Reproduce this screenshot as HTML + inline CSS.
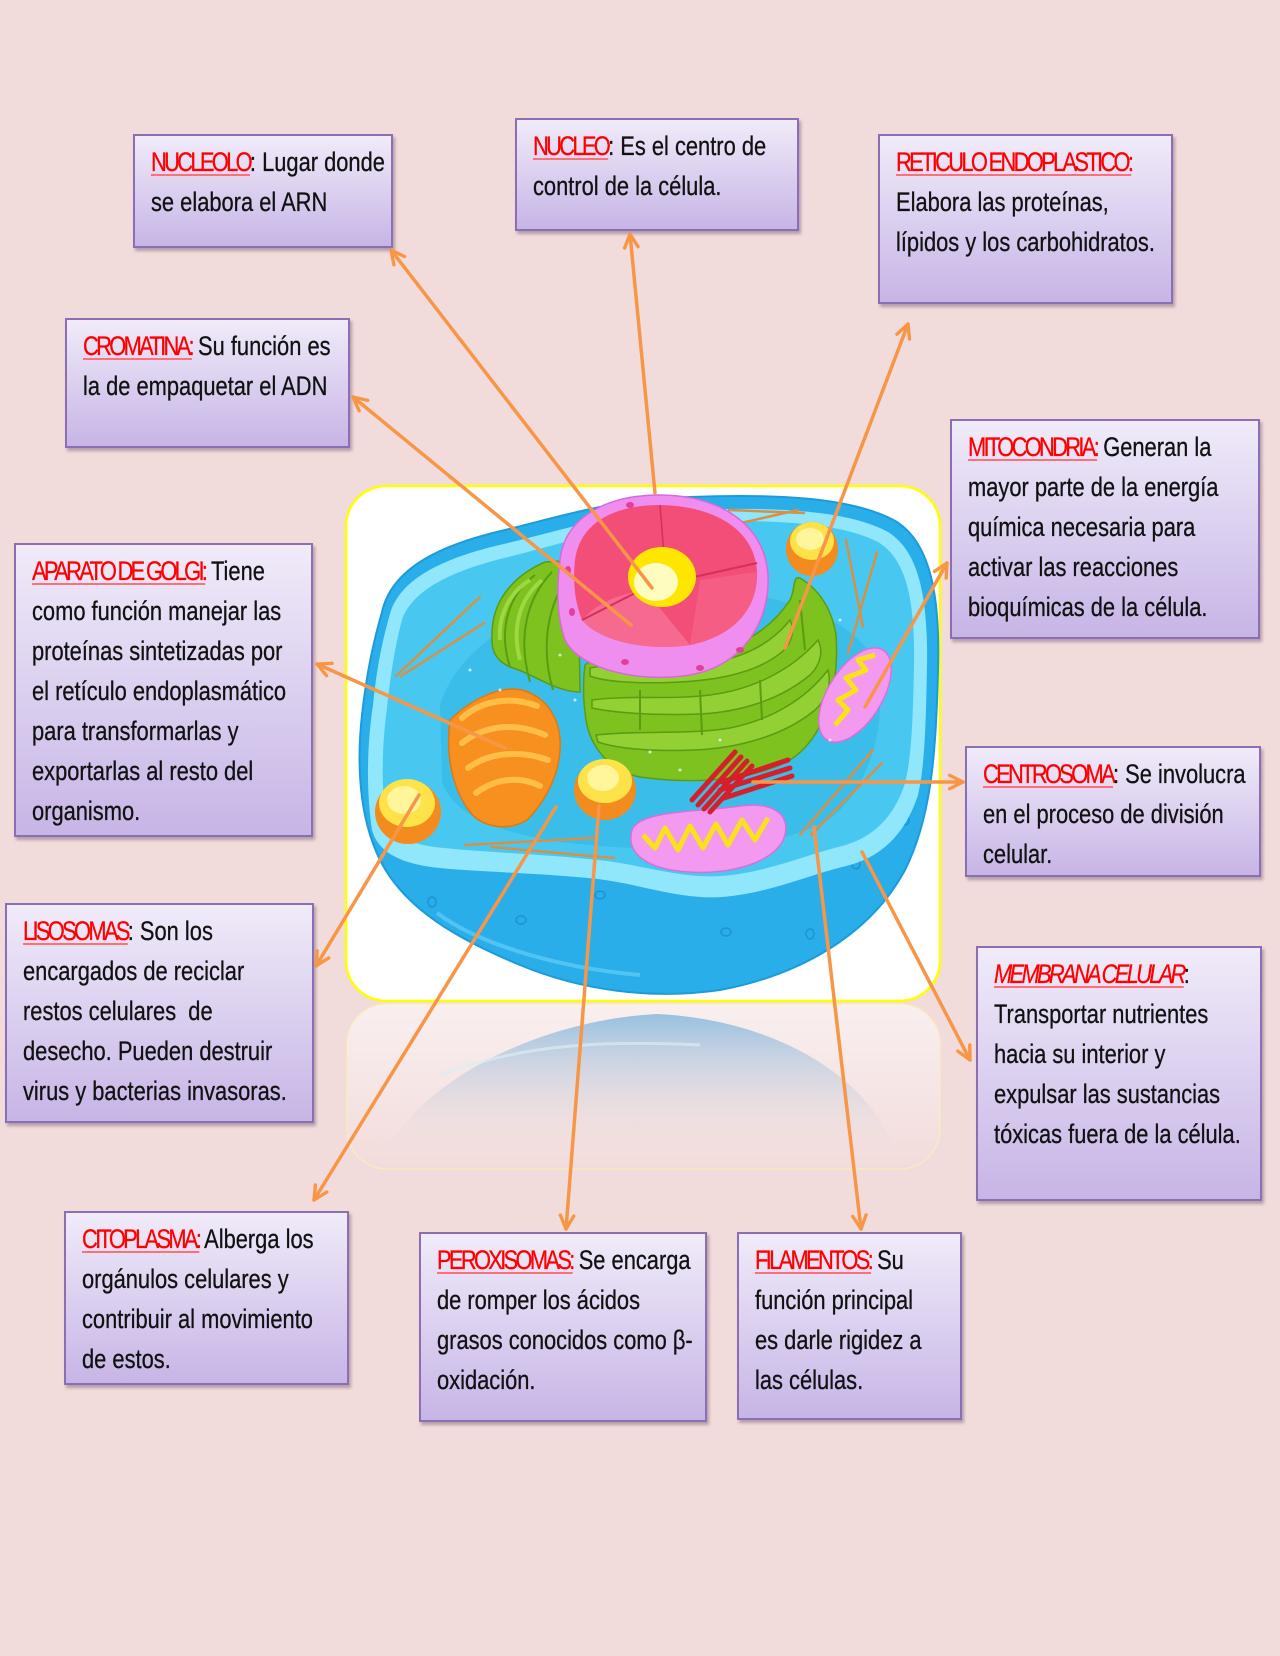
<!DOCTYPE html>
<html>
<head>
<meta charset="utf-8">
<style>
html,body{margin:0;padding:0;}
body{width:1280px;height:1656px;background:#f2dcdb;position:relative;overflow:hidden;font-family:"Liberation Sans",sans-serif;}
.box{position:absolute;box-sizing:border-box;border:2px solid #8a6fb3;background:linear-gradient(#f0ebf9,#c7b5e6);box-shadow:2px 3px 3px rgba(60,40,80,.35);}
.t{position:absolute;left:16px;top:6px;transform:scaleX(.81);transform-origin:0 0;white-space:nowrap;font-size:27px;line-height:40px;color:#111;-webkit-text-stroke:0.3px #111;}
.h{color:#ff0000;-webkit-text-stroke:0.3px #ff0000;letter-spacing:-3.3px;text-decoration:underline;text-decoration-color:#ff6f7a;text-decoration-thickness:2px;text-underline-offset:3px;}
.i{font-style:italic;}
svg{position:absolute;left:0;top:0;}
</style>
</head>
<body>

<svg width="1280" height="1656" viewBox="0 0 1280 1656">
<defs>
<linearGradient id="refl" x1="0" y1="0" x2="0" y2="1">
<stop offset="0" stop-color="#ffffff" stop-opacity="0.55"/>
<stop offset="1" stop-color="#ffffff" stop-opacity="0"/>
</linearGradient>
<linearGradient id="dome" x1="0" y1="0" x2="0" y2="1">
<stop offset="0" stop-color="#98c0e0" stop-opacity="1"/>
<stop offset="1" stop-color="#f0dcdb" stop-opacity="0"/>
</linearGradient>
</defs>
<!-- reflection -->
<rect x="347" y="1004" width="593" height="165" rx="40" fill="url(#refl)" stroke="#fbf2b0" stroke-opacity="0.6" stroke-width="1.5"/>
<path d="M385,1155 C420,1080 540,1020 657,1014 C780,1020 870,1080 895,1150 Z" fill="url(#dome)"/>
<path d="M440,1075 C520,1045 600,1040 700,1045" stroke="#d8ecf4" stroke-width="3" fill="none" opacity="0.7"/>

<!-- image frame -->
<rect x="346" y="486" width="594" height="515" rx="40" fill="#ffffff" stroke="#ffff00" stroke-width="2.5"/>

<!-- cell body -->
<path d="M382,612 C392,568 440,545 505,530 C570,514 610,500 690,497 C770,494 852,496 897,522 C932,545 940,600 938,670 C936,760 930,820 905,870 C870,935 800,975 720,990 C650,1000 580,990 520,965 C460,940 405,910 380,860 C358,815 357,760 362,715 C367,670 374,640 382,612 Z" fill="#2aaeea" stroke="#1c9bdc" stroke-width="2"/>
<path d="M437,913 C480,945 560,968 640,975" stroke="#62cdf4" stroke-width="4" fill="none" opacity="0.7"/>
<g fill="none" stroke="#1b93d4" stroke-width="1.5">
<ellipse cx="432" cy="902" rx="4" ry="5"/>
<ellipse cx="521" cy="920" rx="5" ry="4"/>
<ellipse cx="726" cy="932" rx="5" ry="4"/>
<ellipse cx="810" cy="934" rx="4" ry="5"/>
<ellipse cx="856" cy="864" rx="4" ry="5"/>
<ellipse cx="905" cy="820" rx="4" ry="5"/>
<ellipse cx="600" cy="895" rx="5" ry="4"/>
</g>
<!-- top surface rim -->
<path d="M390,614 C400,578 445,557 508,543 C570,528 612,513 690,510 C768,507 846,509 888,532 C920,552 928,600 927,665 C926,720 925,765 918,795 C905,835 880,858 846,866 C805,876 770,893 722,897 C680,900 640,884 598,879 C540,873 480,872 440,868 C400,864 378,852 372,830 C366,790 367,745 373,705 C377,665 383,638 390,614 Z" fill="#90e6fb"/>
<!-- cytoplasm -->
<path d="M402,620 C412,590 452,570 512,556 C572,541 614,525 690,522 C765,519 840,522 878,542 C908,560 915,605 914,665 C913,715 912,755 905,783 C894,818 872,838 842,846 C802,856 768,872 722,876 C680,879 640,864 598,860 C540,854 482,852 444,848 C410,845 392,836 386,818 C381,785 382,745 387,708 C391,670 396,642 402,620 Z" fill="#48c8f0"/>
<path d="M440,705 C460,640 540,600 620,590 C720,580 830,600 868,650 C895,700 875,790 825,822 C765,852 680,852 600,846 C520,840 455,822 442,782 Z" fill="#3bbde9"/>

<!-- filaments -->
<g stroke="#d4914a" stroke-width="2.5" stroke-linecap="round">
<line x1="396" y1="676" x2="480" y2="597"/>
<line x1="401" y1="676" x2="484" y2="623"/>
<line x1="729" y1="510" x2="804" y2="513"/>
<line x1="741" y1="523" x2="798" y2="510"/>
<line x1="846" y1="540" x2="863" y2="627"/>
<line x1="877" y1="552" x2="848" y2="653"/>
<line x1="465" y1="845" x2="593" y2="838"/>
<line x1="492" y1="847" x2="614" y2="858"/>
<line x1="800" y1="835" x2="873" y2="750"/>
<line x1="811" y1="835" x2="882" y2="763"/>
</g>

<!-- green ER left -->
<path d="M492,640 C490,600 515,575 545,562 L578,560 L580,692 C555,692 530,672 510,667 C495,660 492,650 492,640 Z" fill="#7dc21e" stroke="#5a9c12" stroke-width="1.5"/>
<g fill="none" stroke="#5a9c12" stroke-width="2">
<path d="M510,667 C498,630 508,595 535,575"/>
<path d="M530,682 C518,640 525,600 552,572"/>
<path d="M553,690 C541,650 546,605 570,575"/>
</g>
<g fill="none" stroke="#9ed842" stroke-width="4">
<path d="M500,640 C498,615 510,592 530,580"/>
<path d="M520,660 C512,630 518,600 542,580"/>
</g>

<!-- green ER main bowl -->
<path d="M585,665 C600,650 640,660 690,655 C740,650 770,630 790,600 C796,588 792,576 800,578 C820,590 832,610 836,635 C840,690 822,740 790,760 C750,782 690,784 640,777 C608,771 590,745 586,720 C583,700 583,680 585,665 Z" fill="#7dc21e" stroke="#5a9c12" stroke-width="1.5"/>
<g fill="#92d033" stroke="#5a9c12" stroke-width="1.5">
<path d="M590,668 C620,662 660,668 700,664 C740,660 770,645 790,620 C795,630 792,642 784,650 C760,672 720,680 680,682 C640,684 605,682 590,676 Z"/>
<path d="M592,700 C630,695 670,700 710,695 C750,690 790,672 818,640 C824,652 820,665 810,675 C780,700 740,712 700,714 C650,716 610,712 592,708 Z"/>
<path d="M596,735 C640,730 690,735 730,728 C770,720 805,700 828,670 C832,685 826,700 815,710 C785,735 740,748 695,750 C650,752 615,748 598,742 Z"/>
</g>
<g fill="none" stroke="#5a9c12" stroke-width="2">
<path d="M640,690 L640,730"/><path d="M700,690 L702,735"/><path d="M760,680 L762,720"/><path d="M800,600 L805,650"/>
</g>

<!-- nucleus -->
<path d="M560,560 C565,515 610,495 660,495 C720,495 765,525 768,575 C770,620 745,665 690,675 C640,683 580,670 565,640 C556,615 557,585 560,560 Z" fill="#ef8eef" stroke="#d56ad8" stroke-width="1.5"/>
<path d="M575,560 C580,522 615,505 660,505 C715,506 755,530 757,572 C758,605 738,635 690,645 C645,652 598,640 582,620 C574,600 573,580 575,560 Z" fill="#f24e78"/>
<path d="M582,620 C600,600 620,595 645,590 L690,645 C645,652 598,640 582,620 Z" fill="#f76a90"/>
<path d="M690,645 C738,635 758,605 757,572 L700,580 Z" fill="#f55d85"/>
<path d="M582,620 L645,588 L757,563" stroke="#d3305c" stroke-width="2" fill="none"/>
<path d="M660,505 L664,555" stroke="#d3305c" stroke-width="1.5" fill="none"/>
<ellipse cx="662" cy="577" rx="34" ry="30" fill="#ffe600"/>
<ellipse cx="656" cy="582" rx="22" ry="19" fill="#fffcc0"/>
<g fill="#e0409a">
<ellipse cx="568" cy="570" rx="3" ry="4"/>
<ellipse cx="572" cy="612" rx="3" ry="4"/>
<ellipse cx="625" cy="662" rx="4" ry="3"/>
<ellipse cx="700" cy="668" rx="4" ry="3"/>
<ellipse cx="630" cy="505" rx="4" ry="3"/>
<ellipse cx="740" cy="650" rx="4" ry="3"/>
</g>

<!-- golgi -->
<path d="M450,720 C470,700 500,685 522,690 C547,697 562,720 560,750 C558,780 542,805 527,820 C507,832 482,827 470,812 C455,792 445,762 450,720 Z" fill="#f7901e" stroke="#e07810" stroke-width="1.5"/>
<g fill="none" stroke="#ffbe48" stroke-width="6" stroke-linecap="round">
<path d="M462,718 C482,700 512,696 537,706"/>
<path d="M462,743 C485,725 515,722 545,735"/>
<path d="M468,768 C490,752 520,750 548,760"/>
<path d="M476,793 C496,778 520,776 540,786"/>
</g>

<!-- lysosomes -->
<g>
<ellipse cx="812" cy="549" rx="26" ry="27" fill="#f38b1e"/>
<ellipse cx="812" cy="541" rx="22" ry="19" fill="#fde24a"/>
<ellipse cx="810" cy="539" rx="14" ry="11" fill="#fff59a"/>
<ellipse cx="408" cy="812" rx="33" ry="32" fill="#f38b1e"/>
<ellipse cx="407" cy="803" rx="28" ry="24" fill="#fde24a"/>
<ellipse cx="404" cy="800" rx="17" ry="14" fill="#fff59a"/>
<ellipse cx="605" cy="790" rx="31" ry="30" fill="#f38b1e"/>
<ellipse cx="605" cy="781" rx="27" ry="22" fill="#fde24a"/>
<ellipse cx="603" cy="778" rx="16" ry="13" fill="#fff59a"/>
</g>

<!-- mitochondria -->
<ellipse cx="855" cy="695" rx="27" ry="53" transform="rotate(32 855 695)" fill="#f39af0" stroke="#d870d8" stroke-width="1.5"/>
<polyline points="835,725 848,710 838,700 856,690 846,678 866,670 858,660 875,655" fill="none" stroke="#f9e21a" stroke-width="5" stroke-linejoin="round"/>
<path d="M632,830 C640,810 700,812 740,806 C770,802 790,812 785,835 C778,862 730,875 690,872 C650,870 625,855 632,830 Z" fill="#f39af0" stroke="#d870d8" stroke-width="1.5"/>
<polyline points="643,835 655,848 665,828 678,850 690,826 703,848 716,824 728,845 742,820 755,840 768,818" fill="none" stroke="#f9e21a" stroke-width="5" stroke-linejoin="round"/>

<!-- centrosome -->
<g stroke="#d61f2b" stroke-width="5" stroke-linecap="round">
<line x1="692" y1="800" x2="735" y2="752"/>
<line x1="698" y1="805" x2="741" y2="757"/>
<line x1="704" y1="809" x2="747" y2="761"/>
<line x1="710" y1="812" x2="752" y2="766"/>
<line x1="720" y1="790" x2="790" y2="768"/>
<line x1="722" y1="782" x2="788" y2="760"/>
<line x1="724" y1="798" x2="792" y2="776"/>
</g>
<g fill="#e0f8ff" opacity="0.8">
<circle cx="500" cy="690" r="1.5"/><circle cx="575" cy="700" r="1.5"/><circle cx="560" cy="655" r="1.5"/>
<circle cx="840" cy="620" r="1.5"/><circle cx="830" cy="740" r="1.5"/><circle cx="680" cy="770" r="1.5"/>
<circle cx="650" cy="752" r="1.5"/><circle cx="720" cy="740" r="1.5"/><circle cx="470" cy="670" r="1.5"/>
</g>
</svg>

<!-- boxes -->
<div class="box" style="left:133px;top:134px;width:260px;height:114px;"><div class="t"><span class="h">NUCLEOLO</span>: Lugar donde<br>se elabora el ARN</div></div>

<div class="box" style="left:515px;top:118px;width:284px;height:113px;"><div class="t"><span class="h">NUCLEO</span>: Es el centro de<br>control de la célula.</div></div>

<div class="box" style="left:878px;top:134px;width:295px;height:170px;"><div class="t"><span class="h">RETICULO ENDOPLASTICO:</span><br>Elabora las proteínas,<br>lípidos y los carbohidratos.</div></div>

<div class="box" style="left:65px;top:318px;width:285px;height:130px;"><div class="t"><span class="h">CROMATINA:</span> Su función es<br>la de empaquetar el ADN</div></div>

<div class="box" style="left:950px;top:419px;width:310px;height:220px;"><div class="t"><span class="h">MITOCONDRIA:</span> Generan la<br>mayor parte de la energía<br>química necesaria para<br>activar las reacciones<br>bioquímicas de la célula.</div></div>

<div class="box" style="left:14px;top:543px;width:299px;height:294px;"><div class="t"><span class="h">APARATO DE GOLGI:</span> Tiene<br>como función manejar las<br>proteínas sintetizadas por<br>el retículo endoplasmático<br>para transformarlas y<br>exportarlas al resto del<br>organismo.</div></div>

<div class="box" style="left:965px;top:746px;width:296px;height:131px;"><div class="t"><span class="h">CENTROSOMA</span>: Se involucra<br>en el proceso de división<br>celular.</div></div>

<div class="box" style="left:5px;top:903px;width:309px;height:220px;"><div class="t"><span class="h">LISOSOMAS</span>: Son los<br>encargados de reciclar<br>restos celulares&nbsp; de<br>desecho. Pueden destruir<br>virus y bacterias invasoras.</div></div>

<div class="box" style="left:976px;top:946px;width:286px;height:255px;"><div class="t"><span class="h i">MEMBRANA CELULAR</span>:<br>Transportar nutrientes<br>hacia su interior y<br>expulsar las sustancias<br>tóxicas fuera de la célula.</div></div>

<div class="box" style="left:64px;top:1211px;width:285px;height:174px;"><div class="t"><span class="h">CITOPLASMA:</span> Alberga los<br>orgánulos celulares y<br>contribuir al movimiento<br>de estos.</div></div>

<div class="box" style="left:419px;top:1232px;width:288px;height:190px;"><div class="t"><span class="h">PEROXISOMAS:</span> Se encarga<br>de romper los ácidos<br>grasos conocidos como β-<br>oxidación.</div></div>

<div class="box" style="left:737px;top:1232px;width:225px;height:188px;"><div class="t"><span class="h">FILAMENTOS:</span> Su<br>función principal<br>es darle rigidez a<br>las células.</div></div>

<!-- arrows -->
<svg width="1280" height="1656" viewBox="0 0 1280 1656">
<defs>
<marker id="ah" viewBox="0 0 16 16" refX="14" refY="8" markerWidth="18" markerHeight="18" markerUnits="userSpaceOnUse" orient="auto">
<path d="M2,2 L14,8 L2,14" fill="none" stroke="#f79646" stroke-width="3" stroke-linecap="round" stroke-linejoin="round"/>
</marker>
</defs>
<g stroke="#f79646" stroke-width="3.5" stroke-linecap="round" fill="none" marker-end="url(#ah)">
<line x1="652" y1="588" x2="391" y2="250"/>
<line x1="655" y1="493" x2="630" y2="234"/>
<line x1="631" y1="625" x2="353" y2="397"/>
<line x1="785" y1="648" x2="908" y2="324"/>
<line x1="865" y1="707" x2="947" y2="563"/>
<line x1="753" y1="782" x2="963" y2="782"/>
<line x1="505" y1="748" x2="317" y2="664"/>
<line x1="419" y1="795" x2="316" y2="966"/>
<line x1="556" y1="807" x2="314" y2="1200"/>
<line x1="599" y1="806" x2="566" y2="1229"/>
<line x1="814" y1="827" x2="861" y2="1229"/>
<line x1="862" y1="852" x2="970" y2="1060"/>
</g>
</svg>

</body>
</html>
